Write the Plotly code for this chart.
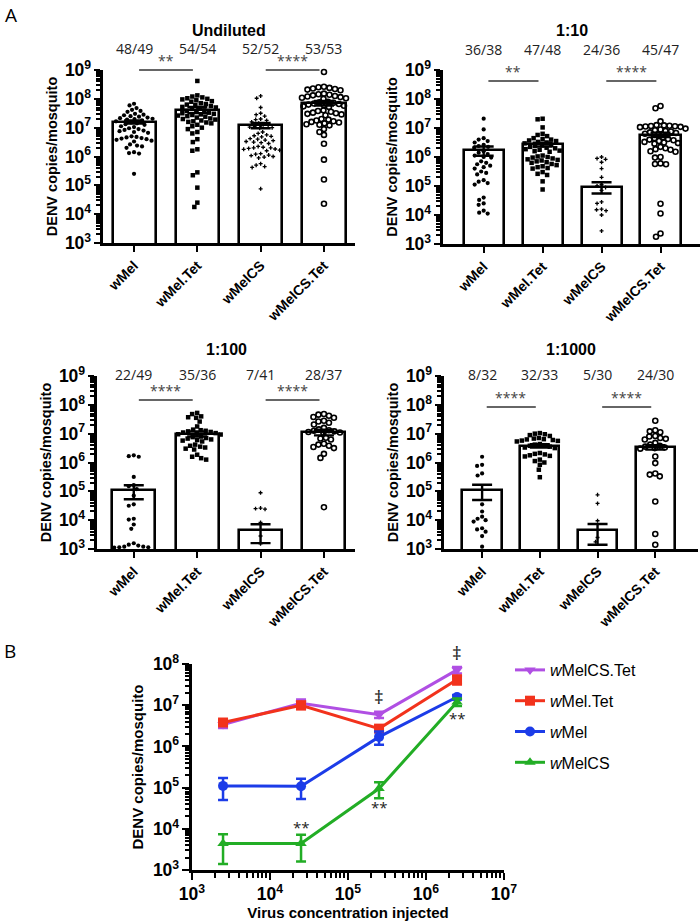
import numpy as np
import plotly.graph_objects as go

# ---------------- DATA ----------------
strains = ["wMel", "wMel.Tet", "wMelCS", "wMelCS.Tet"]
dilutions = ["Undiluted", "1:10", "1:100", "1:1000"]
virus_injected = [2.5e6, 2.5e5, 2.5e4, 2.5e3]   # virus concentration for each dilution

# log10 DENV copies per positive mosquito
und_wMel = [7.83, 7.77, 7.68, 7.62, 7.58, 7.55, 7.48, 7.45, 7.43, 7.40, 7.38, 7.35, 7.33, 7.31, 7.30, 7.28,
            7.25, 7.22, 7.18, 7.15, 7.12, 7.10, 7.05, 7.02, 6.98, 6.95, 6.92, 6.90, 6.88, 6.85, 6.82, 6.70,
            6.68, 6.66, 6.64, 6.62, 6.60, 6.58, 6.55, 6.52, 6.42, 6.38, 6.35, 6.30, 6.15, 6.12, 6.10, 5.40]
und_wMelTet = [8.62, 8.12, 8.08, 8.05, 8.02, 8.0, 7.98, 7.95, 7.92, 7.9, 7.85, 7.82, 7.8, 7.78, 7.75, 7.72,
               7.7, 7.68, 7.65, 7.6, 7.58, 7.55, 7.52, 7.5, 7.48, 7.46, 7.44, 7.42, 7.4, 7.38, 7.35, 7.32,
               7.3, 7.28, 7.25, 7.22, 7.2, 7.18, 7.15, 7.1, 7.05, 7.0, 6.95, 6.85, 6.8, 6.6, 6.5, 6.25, 6.2,
               5.45, 5.35, 4.92, 4.4, 4.25]
und_wMelCS = [8.1, 8.02, 7.7, 7.5, 7.45, 7.4, 7.3, 7.28, 7.25, 7.2, 7.15, 7.1, 7.08, 7.05, 7.02, 7.0, 6.98,
              6.85, 6.8, 6.75, 6.72, 6.7, 6.68, 6.62, 6.6, 6.57, 6.55, 6.52, 6.5, 6.48, 6.45, 6.35, 6.32,
              6.3, 6.3, 6.28, 6.26, 6.25, 6.22, 6.2, 6.1, 6.08, 6.05, 6.03, 6.0, 5.98, 5.95, 5.75, 5.7,
              5.65, 5.62, 4.88]
und_wMelCSTet = [8.93, 8.42, 8.4, 8.38, 8.36, 8.34, 8.32, 8.3, 8.18, 8.16, 8.14, 8.12, 8.1, 8.08, 8.06,
                 8.04, 8.02, 8.0, 7.9, 7.88, 7.86, 7.84, 7.82, 7.8, 7.78, 7.76, 7.74, 7.72, 7.6, 7.58, 7.55,
                 7.52, 7.5, 7.48, 7.46, 7.43, 7.3, 7.28, 7.25, 7.22, 7.2, 7.18, 7.15, 7.12, 7.1, 7.08, 6.95,
                 6.85, 6.75, 6.44, 5.89, 5.2, 4.36]

d10_wMel = [7.32, 6.95, 6.65, 6.6, 6.55, 6.5, 6.42, 6.38, 6.35, 6.32, 6.2, 6.15, 6.1, 6.05, 6.0, 5.98, 5.85,
            5.8, 5.75, 5.7, 5.65, 5.6, 5.5, 5.45, 5.4, 5.2, 5.15, 5.1, 5.05, 4.6, 4.52, 4.4, 4.35, 4.15,
            4.08, 4.05]
d10_wMelTet = [7.32, 7.3, 7.02, 6.8, 6.76, 6.72, 6.65, 6.62, 6.6, 6.57, 6.55, 6.52, 6.5, 6.47, 6.42, 6.4,
               6.38, 6.35, 6.32, 6.3, 6.27, 6.25, 6.22, 6.2, 6.18, 6.05, 6.02, 6.0, 5.98, 5.95, 5.92, 5.9,
               5.88, 5.85, 5.82, 5.8, 5.76, 5.72, 5.68, 5.65, 5.62, 5.6, 5.48, 5.42, 5.38, 5.16, 4.88]
d10_wMelCS = [6.0, 5.95, 5.92, 5.82, 5.6, 5.3, 5.05, 5.0, 4.95, 4.85, 4.45, 4.4, 4.2, 4.18, 4.15, 4.0, 3.45]
d10_wMelCSTet = [7.76, 7.68, 7.23, 7.1, 7.09, 7.08, 7.07, 7.06, 7.05, 7.04, 7.03, 6.98, 6.95, 6.92, 6.9,
                 6.88, 6.85, 6.83, 6.8, 6.78, 6.68, 6.65, 6.62, 6.6, 6.58, 6.55, 6.52, 6.5, 6.48, 6.46,
                 6.35, 6.3, 6.27, 6.25, 6.2, 6.18, 6.0, 5.98, 5.78, 5.76, 5.75, 4.39, 4.05, 3.36, 3.25]

d100_wMel = [6.22, 6.25, 6.2, 5.5, 5.22, 5.18, 5.08, 4.85, 4.55, 4.5, 4.05, 4.02, 3.85, 3.7, 3.2, 3.12,
             3.08, 3.06, 3.05, 3.06, 3.08, 3.15]
d100_wMelTet = [7.72, 7.68, 7.6, 7.57, 7.55, 7.42, 7.25, 7.14, 7.12, 7.1, 7.08, 7.06, 7.04, 7.02, 7.0, 6.98,
                6.97, 6.9, 6.88, 6.85, 6.83, 6.8, 6.78, 6.76, 6.73, 6.62, 6.58, 6.55, 6.52, 6.48, 6.45,
                6.27, 6.2, 6.15, 6.1]
d100_wMelCS = [4.95, 4.42, 4.38, 4.4, 3.92, 3.45, 3.18]
d100_wMelCSTet = [7.68, 7.66, 7.62, 7.58, 7.55, 7.45, 7.42, 7.38, 7.32, 7.2, 7.15, 7.12, 7.1, 7.08, 7.06,
                  7.04, 7.02, 6.86, 6.83, 6.8, 6.65, 6.62, 6.58, 6.54, 6.5, 6.3, 6.16, 4.45]

d1000_wMel = [6.2, 5.92, 5.88, 5.62, 5.55, 4.55, 4.3, 4.12, 4.05, 4.0, 3.95, 3.72, 3.68, 3.6, 3.45, 3.08]
d1000_wMelTet = [7.02, 7.0, 6.98, 6.95, 6.92, 6.85, 6.83, 6.81, 6.8, 6.78, 6.76, 6.75, 6.73, 6.64, 6.62,
                 6.6, 6.58, 6.55, 6.52, 6.5, 6.33, 6.3, 6.28, 6.25, 6.23, 6.21, 6.1, 6.05, 6.0, 5.92,
                 5.75, 5.49]
d1000_wMelCS = [4.88, 4.58, 3.98, 3.4, 3.25]
d1000_wMelCSTet = [7.45, 7.12, 7.08, 7.05, 6.92, 6.9, 6.85, 6.82, 6.8, 6.68, 6.62, 6.58, 6.55, 6.52, 6.5,
                   6.48, 6.21, 5.98, 5.62, 5.58, 5.52, 4.65, 3.52, 3.15]

# group mean and SEM (order of strains)
mean_und = [1.58e7, 4.2e7, 1.2e7, 7.2e7]
sem_und = [2.0e6, 1.0e7, 2.5e6, 1.3e7]
mean_d10 = [1.7e6, 2.7e6, 9.5e4, 5.9e6]
sem_d10 = [6.0e5, 4.0e5, 4.0e4, 1.0e6]
mean_d100 = [1.08e5, 1.0e7, 4.4e3, 1.12e7]
sem_d100 = [5.5e4, 2.0e6, 2.8e3, 2.5e6]
mean_d1000 = [1.1e5, 3.8e6, 4.4e3, 3.4e6]
sem_d1000 = [6.0e4, 5.0e5, 3.0e3, 6.0e5]

infected_und = ["48/49", "54/54", "52/52", "53/53"]
infected_d10 = ["36/38", "47/48", "24/36", "45/47"]
infected_d100 = ["22/49", "35/36", "7/41", "28/37"]
infected_d1000 = ["8/32", "32/33", "5/30", "24/30"]

sig_und = ["**", "****"]
sig_d10 = ["**", "****"]
sig_d100 = ["****", "****"]
sig_d1000 = ["****", "****"]

# ---------------- STYLE / LAYOUT ----------------
W, H = 700, 922
BOLD = "Liberation Sans"
LIGHT = "Open Sans"

tick_text = ["<b>wMel</b>", "<b>wMel.Tet</b>", "<b>wMelCS</b>", "<b>wMelCS.Tet</b>"]
markers = [dict(symbol="circle", size=4.2, color="black"),
           dict(symbol="square", size=4.5, color="black"),
           dict(symbol="cross", size=3.3, color="black"),
           dict(symbol="circle-open", size=5.0, color="black", line=dict(width=1.6, color="black"))]
swarm_d = [4.8, 5.0, 4.6, 5.2]

panels = [
    dict(pts=[und_wMel, und_wMelTet, und_wMelCS, und_wMelCSTet], mean=mean_und, sem=sem_und,
         inf=infected_und, sig=sig_und, title=dilutions[0],
         xpx=(103, 355), ypx=(70, 243), xr=(-0.49, 3.49), ty=30, fy=49, ly=70),
    dict(pts=[d10_wMel, d10_wMelTet, d10_wMelCS, d10_wMelCSTet], mean=mean_d10, sem=sem_d10,
         inf=infected_d10, sig=sig_d10, title=dilutions[1],
         xpx=(443, 700), ypx=(70, 244), xr=(-0.69, 3.67), ty=30, fy=49, ly=81),
    dict(pts=[d100_wMel, d100_wMelTet, d100_wMelCS, d100_wMelCSTet], mean=mean_d100, sem=sem_d100,
         inf=infected_d100, sig=sig_d100, title=dilutions[2],
         xpx=(97, 355), ypx=(376, 549), xr=(-0.58, 3.49), ty=349, fy=374, ly=400),
    dict(pts=[d1000_wMel, d1000_wMelTet, d1000_wMelCS, d1000_wMelCSTet], mean=mean_d1000, sem=sem_d1000,
         inf=infected_d1000, sig=sig_d1000, title=dilutions[3],
         xpx=(444, 698), ypx=(376, 549), xr=(-0.66, 3.74), ty=349, fy=374, ly=407),
]


def swarm(vals, d, px_dec, px_unit):
    vals = np.asarray(vals, dtype=float)
    offs = np.zeros(len(vals))
    placed = []
    c = np.arange(0, 40, 0.5)
    cands = sorted(np.concatenate([c, -c[1:]]), key=lambda v: (abs(v), v))
    for i in np.argsort(-vals, kind="stable"):
        y = vals[i] * px_dec
        chosen = 0.0
        for cx in cands:
            if all((cx - px) ** 2 + (y - py) ** 2 >= d * d for px, py in placed):
                chosen = cx
                break
        placed.append((chosen, y))
        offs[i] = chosen
    return offs / px_unit


fig = go.Figure()
layout = {}
annotations = []
shapes = []

axis_common = dict(showline=True, linecolor="black", linewidth=3, showgrid=False, zeroline=False,
                   ticks="outside", tickcolor="black", tickwidth=2, automargin=False)


def note(**kw):
    kw.setdefault("showarrow", False)
    kw.setdefault("xanchor", "center")
    kw.setdefault("yanchor", "middle")
    annotations.append(kw)


for k, p in enumerate(panels, start=1):
    xa = "x" if k == 1 else f"x{k}"
    ya = "y" if k == 1 else f"y{k}"
    x0, x1 = p["xpx"]
    y0, y1 = p["ypx"]
    px_unit = (x1 - x0) / (p["xr"][1] - p["xr"][0])
    px_dec = (y1 - y0) / 6.0
    hgt = y1 - y0

    fig.add_trace(go.Bar(x=[0, 1, 2, 3], y=p["mean"], width=0.68, xaxis=xa, yaxis=ya,
                         marker=dict(color="white", line=dict(color="black", width=2.6)),
                         showlegend=False, hoverinfo="skip"))
    for i in range(4):
        vals = p["pts"][i]
        offs = swarm(vals, swarm_d[i], px_dec, px_unit)
        fig.add_trace(go.Scatter(x=i + offs, y=[10 ** v for v in vals], mode="markers",
                                 marker=markers[i], xaxis=xa, yaxis=ya, showlegend=False,
                                 cliponaxis=False))
    fig.add_trace(go.Scatter(x=[0, 1, 2, 3], y=p["mean"], mode="markers", xaxis=xa, yaxis=ya,
                             marker=dict(size=1, color="rgba(0,0,0,0)"), showlegend=False,
                             error_y=dict(type="data", array=p["sem"], color="black", thickness=2.4,
                                          width=10)))

    layout["xaxis" if k == 1 else f"xaxis{k}"] = dict(
        axis_common, domain=[x0 / W, x1 / W], range=list(p["xr"]), anchor=ya,
        tickmode="array", tickvals=[0, 1, 2, 3], ticktext=tick_text, tickangle=-45, ticklen=6,
        tickfont=dict(family=BOLD, size=14, color="black"))
    layout["yaxis" if k == 1 else f"yaxis{k}"] = dict(
        axis_common, domain=[1 - y1 / H, 1 - y0 / H], type="log", range=[3, 9], anchor=xa,
        dtick=1, exponentformat="power", showexponent="all", ticklen=6,
        tickfont=dict(family=BOLD, size=14, color="black", weight="bold"),
        minor=dict(dtick="D1", ticks="outside", ticklen=4, tickcolor="black", tickwidth=1.5,
                   showgrid=False),
        title=dict(text="<b>DENV copies/mosquito</b>", font=dict(family=BOLD, size=14.5, color="black"),
                   standoff=4))

    ydom = f"{ya} domain"
    note(text=f"<b>{p['title']}</b>", xref=f"{xa} domain", x=0.5, yref=ydom,
         y=1 + (y0 - p["ty"]) / hgt, font=dict(family=BOLD, size=16, color="black"))
    for i in range(4):
        note(text=p["inf"][i], xref=xa, x=i, yref=ydom, y=1 + (y0 - p["fy"]) / hgt,
             font=dict(family=LIGHT, size=14, color="#222"))
    for j, (a, b) in enumerate([(0, 1), (2, 3)]):
        ly = 1 + (y0 - p["ly"]) / hgt
        shapes.append(dict(type="line", xref=xa, x0=a + 0.08, x1=b - 0.07, yref=ydom,
                           y0=ly, y1=ly, line=dict(color="#333", width=1.3)))
        note(text=p["sig"][j], xref=xa, x=(a + b) / 2, yref=ydom, y=ly - 2.0 / hgt, yanchor="bottom",
             font=dict(family=LIGHT, size=14, color="#444"))

# ---------------- Panel B ----------------
b_colors = {"wMelCS.Tet": "#b04fe3", "wMel.Tet": "#f2321c", "wMel": "#1c3ce8", "wMelCS": "#22ad25"}
b_symbols = {"wMelCS.Tet": "triangle-down", "wMel.Tet": "square", "wMel": "circle", "wMelCS": "triangle-up"}
means_all = [mean_und, mean_d10, mean_d100, mean_d1000]
sems_all = [sem_und, sem_d10, sem_d100, sem_d1000]
for name in ["wMelCS.Tet", "wMel.Tet", "wMel", "wMelCS"]:
    si = strains.index(name)
    fig.add_trace(go.Scatter(
        x=virus_injected, y=[m[si] for m in means_all], mode="lines+markers",
        name="<i>w</i>" + name[1:], legendgroup=name, xaxis="x5", yaxis="y5",
        line=dict(color=b_colors[name], width=3),
        marker=dict(symbol=b_symbols[name], size=10, color=b_colors[name]),
        error_y=dict(type="data", array=[s[si] for s in sems_all], color=b_colors[name],
                     thickness=2.5, width=5)))

bx0, bx1, by0, by1 = 192, 504, 664, 870
layout["xaxis5"] = dict(axis_common, domain=[bx0 / W, bx1 / W], type="log", range=[3, 7], anchor="y5",
                        dtick=1, exponentformat="power", showexponent="all", ticklen=7,
                        tickfont=dict(family=BOLD, size=14, color="black", weight="bold"),
                        minor=dict(dtick="D1", ticks="outside", ticklen=5, tickcolor="black", tickwidth=2,
                                   showgrid=False),
                        title=dict(text="<b>Virus concentration injected</b>",
                                   font=dict(family=BOLD, size=15, color="black"), standoff=2))
layout["yaxis5"] = dict(axis_common, domain=[1 - by1 / H, 1 - by0 / H], type="log", range=[3, 8],
                        anchor="x5", dtick=1, exponentformat="power", showexponent="all", ticklen=7,
                        tickfont=dict(family=BOLD, size=14, color="black", weight="bold"),
                        minor=dict(dtick="D1", ticks="outside", ticklen=4, tickcolor="black", tickwidth=2,
                                   showgrid=False),
                        title=dict(text="<b>DENV copies/mosquito</b>",
                                   font=dict(family=BOLD, size=15, color="black"), standoff=6))

lx = np.log10
for txt, xv, yv, fs in [("‡", 2.5e5, 7.2, 19), ("**", 2.5e4, 4.04, 15), ("**", 2.5e5, 4.53, 15),
                        ("**", 2.5e6, 6.69, 15)]:
    note(text=txt, xref="x5", x=lx(xv), yref="y5", y=yv, font=dict(family=LIGHT, size=fs, color="#222"))
note(text="‡", xref="x5", x=lx(2.5e6), yref="paper", y=1 - 653 / H,
     font=dict(family=LIGHT, size=19, color="#222"))

note(text="A", xref="paper", x=3 / W, yref="paper", y=1 - 15 / H, xanchor="left",
     font=dict(family=LIGHT, size=19, color="black"))
note(text="B", xref="paper", x=2 / W, yref="paper", y=1 - 651 / H, xanchor="left",
     font=dict(family=LIGHT, size=19, color="black"))

fig.update_layout(
    width=W, height=H, margin=dict(l=0, r=0, t=0, b=0, autoexpand=False),
    paper_bgcolor="white", plot_bgcolor="white",
    annotations=annotations, shapes=shapes,
    legend=dict(x=510 / W, y=1 - 653 / H, xanchor="left", yanchor="top", tracegroupgap=7,
                font=dict(family=BOLD, size=16, color="black"), bgcolor="rgba(0,0,0,0)"),
    bargap=0, **layout)

fig.write_html("out.html", config={"displayModeBar": False},
               post_script="document.body.style.margin='0';document.body.style.overflow='hidden';")
